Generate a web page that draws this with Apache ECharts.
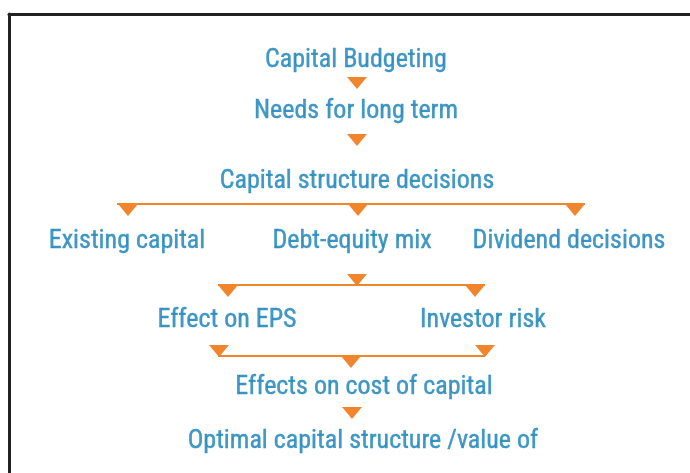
<!DOCTYPE html>
<html>
<head>
<meta charset="utf-8">
<script src="https://cdn.jsdelivr.net/npm/echarts@6/dist/echarts.min.js"></script>
<style>
  html, body { margin: 0; padding: 0; background: #fff; }
  #chart { width: 690px; height: 473px; }
</style>
</head>
<body>
<div id="chart"></div>
<script>
// flowchart boxes: label text and their centre in plot units
const nodeNames = [
  'Capital Budgeting',
  'Needs for long term',
  'Capital structure decisions',
  'Existing capital',
  'Debt-equity mix',
  'Dividend decisions',
  'Effect on EPS',
  'Investor risk',
  'Effects on cost of capital',
  'Optimal capital structure /value of'
]
const nodeX = [356, 356, 357, 127, 352, 569, 227, 483, 364, 363]
const nodeY = [60, 111, 181, 241, 241, 241, 320, 320, 387, 441]

// arrow heads (pointing down)
const arrowX = [357, 357, 128, 358, 575, 357, 228, 475, 219, 485, 351, 352]
const arrowY = [83, 140, 210, 210, 210, 280, 291, 291, 351, 351, 362, 413]

// connector bars: [xStart, xEnd, y]
const barStart = [117, 218, 218]
const barEnd = [585, 485, 485]
const barY = [204, 285, 356]

const textColor = '#137fb8'
const orange = '#f0852c'
const fontFamily = '"Roboto Condensed", "Liberation Sans Narrow", "DejaVu Sans Condensed", sans-serif'

const chart = echarts.init(document.getElementById('chart'), null, { renderer: 'canvas' })

const barSeries = barY.map((y, i) => ({
  type: 'line',
  data: [[barStart[i], y], [barEnd[i], y]],
  symbol: 'none',
  silent: true,
  z: 2,
  lineStyle: { color: orange, width: 2 }
}))

const option = {
  animation: false,
  grid: { left: 9, right: 0, top: 14, bottom: 0 },
  xAxis: {
    type: 'value',
    min: 9,
    max: 690,
    position: 'top',
    axisLine: { show: true, onZero: false, lineStyle: { color: '#222', width: 3 } },
    axisTick: { show: false },
    axisLabel: { show: false },
    splitLine: { show: false }
  },
  yAxis: {
    type: 'value',
    min: 14,
    max: 473,
    inverse: true,
    axisLine: { show: true, onZero: false, lineStyle: { color: '#222', width: 3 } },
    axisTick: { show: false },
    axisLabel: { show: false },
    splitLine: { show: false }
  },
  series: [
    ...barSeries,
    {
      type: 'scatter',
      data: arrowX.map((x, i) => [x, arrowY[i]]),
      symbol: 'triangle',
      symbolRotate: 180,
      symbolSize: [20, 12],
      silent: true,
      z: 3,
      itemStyle: { color: orange, opacity: 1 }
    },
    {
      type: 'scatter',
      data: nodeNames.map((name, i) => ({ name, value: [nodeX[i], nodeY[i]] })),
      symbolSize: 1,
      itemStyle: { color: 'transparent' },
      silent: true,
      z: 4,
      label: {
        show: true,
        position: 'inside',
        formatter: '{b}',
        color: textColor,
        fontFamily: fontFamily,
        fontSize: 26,
        align: 'center',
        verticalAlign: 'middle',
        textBorderColor: textColor,
        textBorderWidth: 0.4
      }
    }
  ]
}

chart.setOption(option)
</script>
</body>
</html>
